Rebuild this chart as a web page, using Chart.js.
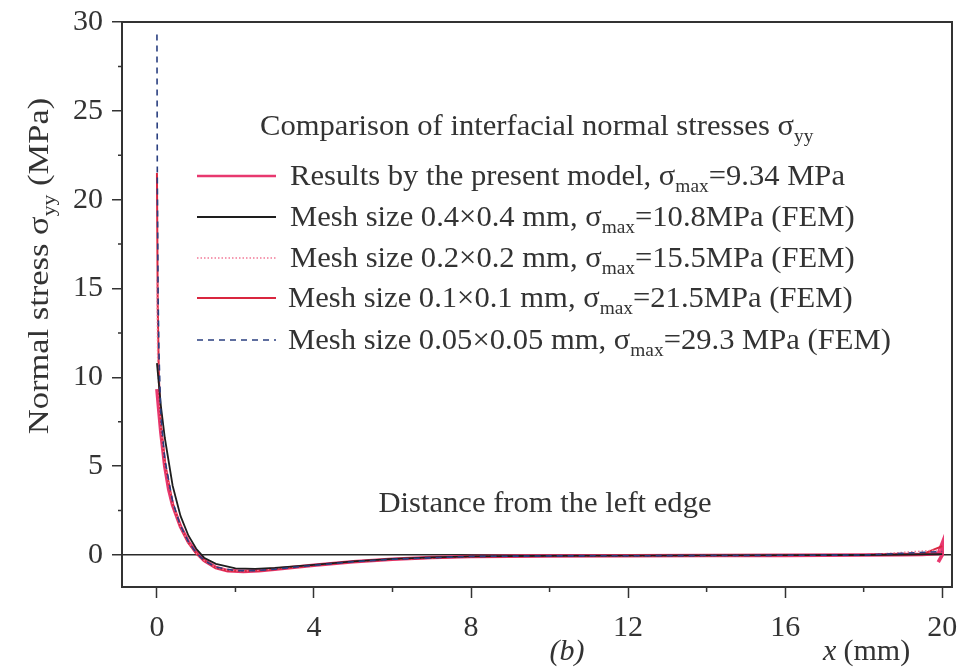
<!DOCTYPE html>
<html>
<head>
<meta charset="utf-8">
<script src="https://cdn.jsdelivr.net/npm/chart.js@4/dist/chart.umd.min.js"></script>
<style>
  html, body { margin: 0; padding: 0; background: #fff; }
  #wrap { width: 963px; height: 669px; }
</style>
</head>
<body>
<div id="wrap"><canvas id="stressChart" width="963" height="669"></canvas></div>
<script>
// values (x in mm, stress in MPa)
const xModel = [0, 0.05, 0.1, 0.2, 0.3, 0.4, 0.6, 0.8, 1.0, 1.2, 1.5, 1.8, 2.2, 2.6, 3.0, 4, 5, 6, 7, 8, 10, 12, 14, 16, 18, 19, 19.5, 19.9, 20, 20, 19.9];
const yModel = [9.34, 8.1, 6.9, 5.0, 3.7, 2.8, 1.6, 0.75, 0.15, -0.3, -0.7, -0.88, -0.92, -0.88, -0.8, -0.58, -0.38, -0.24, -0.14, -0.08, -0.05, -0.04, -0.03, -0.02, 0.0, 0.02, 0.03, 0.08, 0.65, 0.0, -0.4];

const xMesh04 = [0, 0.1, 0.2, 0.4, 0.6, 0.8, 1.0, 1.2, 1.5, 2.0, 2.5, 3.0, 4, 5, 6, 7, 8, 10, 12, 14, 16, 18, 20];
const yMesh04 = [10.8, 8.4, 6.6, 3.9, 2.2, 1.1, 0.35, -0.15, -0.5, -0.75, -0.78, -0.72, -0.55, -0.36, -0.22, -0.13, -0.08, -0.04, -0.03, -0.02, -0.01, 0.0, 0.05];

const xMesh02 = [0, 0.02, 0.1, 0.2, 0.4, 0.6, 0.8, 1.0, 1.2, 1.5, 1.8, 2.2, 2.6, 3.0, 4, 5, 6, 8, 10, 14, 18, 20];
const yMesh02 = [15.5, 10.5, 7.2, 5.2, 2.9, 1.6, 0.7, 0.1, -0.32, -0.7, -0.86, -0.9, -0.86, -0.78, -0.57, -0.37, -0.23, -0.08, -0.05, -0.03, 0.0, 0.3];

const xMesh01 = [0, 0.02, 0.05, 0.1, 0.2, 0.4, 0.6, 0.8, 1.0, 1.2, 1.5, 1.8, 2.2, 2.6, 3.0, 4, 5, 6, 8, 10, 14, 18, 19.5, 20];
const yMesh01 = [21.5, 14.0, 10.0, 7.3, 5.2, 2.9, 1.6, 0.7, 0.1, -0.32, -0.72, -0.88, -0.92, -0.88, -0.8, -0.58, -0.38, -0.24, -0.08, -0.05, -0.03, 0.0, 0.05, 0.5];

const xMesh005 = [0, 0.01, 0.03, 0.05, 0.1, 0.2, 0.4, 0.6, 0.8, 1.0, 1.2, 1.5, 2.0, 2.5, 3.0, 4, 5, 6, 8, 10, 14, 18, 20];
const yMesh005 = [29.3, 21.0, 14.5, 11.5, 7.8, 5.4, 3.0, 1.65, 0.75, 0.12, -0.3, -0.68, -0.88, -0.88, -0.8, -0.58, -0.38, -0.24, -0.08, -0.05, -0.03, 0.0, 0.2];

const seriesLabels = [
  "Results by the present model, σ_{max}=9.34 MPa",
  "Mesh size 0.4×0.4 mm, σ_{max}=10.8MPa (FEM)",
  "Mesh size 0.2×0.2 mm, σ_{max}=15.5MPa (FEM)",
  "Mesh size 0.1×0.1 mm, σ_{max}=21.5MPa (FEM)",
  "Mesh size 0.05×0.05 mm, σ_{max}=29.3 MPa (FEM)"
];
const legendTitle = "Comparison of interfacial normal stresses σ_{yy}";
const yTitle = "Normal stress σ_{yy} (MPa)";
const noteText = "Distance from the left edge";

const xMajorTicks = [0, 4, 8, 12, 16, 20];
const xMinorTicks = [2, 6, 10, 14, 18];
const yMajorTicks = [0, 5, 10, 15, 20, 25, 30];
const yMinorTicks = [2.5, 7.5, 12.5, 17.5, 22.5, 27.5];

const SERIF = "'Liberation Serif', 'Times New Roman', serif";
const INK = "#333";

function toPoints(xs, ys) {
  return xs.map((x, i) => ({ x: x, y: ys[i] }));
}

// draws text with _{sub} parts as subscripts; sx stretches horizontally
function drawRich(ctx, str, x, y, size, align, sx) {
  sx = sx || 1;
  const parts = [];
  const re = /_\{([^}]*)\}/g;
  let last = 0, m;
  while ((m = re.exec(str)) !== null) {
    if (m.index > last) parts.push({ t: str.slice(last, m.index), sub: false });
    parts.push({ t: m[1], sub: true });
    last = re.lastIndex;
  }
  if (last < str.length) parts.push({ t: str.slice(last), sub: false });
  const subSize = Math.round(size * 0.64);
  let total = 0;
  parts.forEach(p => {
    ctx.font = (p.sub ? subSize : size) + "px " + SERIF;
    p.w = ctx.measureText(p.t).width;
    total += p.w;
  });
  ctx.save();
  ctx.translate(x, y);
  ctx.scale(sx, 1);
  let cx = align === "center" ? -total / 2 : 0;
  ctx.textAlign = "left";
  ctx.textBaseline = "alphabetic";
  parts.forEach(p => {
    ctx.font = (p.sub ? subSize : size) + "px " + SERIF;
    ctx.fillText(p.t, cx, p.sub ? size * 0.22 : 0);
    cx += p.w;
  });
  ctx.restore();
  return total * sx;
}

const datasets = [
  { data: toPoints(xModel, yModel), borderColor: "#e8386f", borderWidth: 3.6, order: 5 },
  { data: toPoints(xMesh04, yMesh04), borderColor: "#1e1e1e", borderWidth: 1.8, order: 2 },
  { data: toPoints(xMesh02, yMesh02), borderColor: "#f27a98", borderWidth: 1.4, borderDash: [1.5, 2], order: 3 },
  { data: toPoints(xMesh01, yMesh01), borderColor: "#d9263f", borderWidth: 2, order: 4 },
  { data: toPoints(xMesh005, yMesh005), borderColor: "#2a3f80", borderWidth: 1.6, borderDash: [6, 5], order: 1 }
].map(d => Object.assign({ showLine: true, pointRadius: 0, tension: 0, fill: false }, d));

const decorations = {
  id: "decorations",
  afterDatasetsDraw(chart) {
    const ctx = chart.ctx;
    const a = chart.chartArea;
    const xs = chart.scales.x, ys = chart.scales.y;
    ctx.save();
    // frame
    ctx.strokeStyle = INK;
    ctx.lineWidth = 2;
    ctx.strokeRect(a.left, a.top, a.right - a.left, a.bottom - a.top);
    // minor ticks
    ctx.lineWidth = 1.5;
    ctx.beginPath();
    xMinorTicks.forEach(v => {
      const px = xs.getPixelForValue(v);
      ctx.moveTo(px, a.bottom); ctx.lineTo(px, a.bottom + 5);
    });
    yMinorTicks.forEach(v => {
      const py = ys.getPixelForValue(v);
      ctx.moveTo(a.left - 4, py); ctx.lineTo(a.left, py);
    });
    ctx.stroke();

    ctx.fillStyle = INK;
    // legend title
    drawRich(ctx, legendTitle, 260, 135, 30, "left", 1.02);
    // legend rows
    const rowY = [176, 217, 258, 298, 340];
    const textX = [290, 290, 290, 288, 288];
    chart.data.datasets.forEach((ds, i) => {
      ctx.save();
      ctx.strokeStyle = ds.borderColor;
      ctx.lineWidth = Math.min(ds.borderWidth, 2.4);
      ctx.setLineDash(ds.borderDash || []);
      ctx.beginPath();
      ctx.moveTo(197, rowY[i]);
      ctx.lineTo(276, rowY[i]);
      ctx.stroke();
      ctx.restore();
      ctx.fillStyle = INK;
      drawRich(ctx, seriesLabels[i], textX[i], rowY[i] + 9, 30, "left", 1.02);
    });

    // annotation
    drawRich(ctx, noteText, 545, 512, 30, "center", 1.02);
    // (b) and x (mm)
    ctx.font = "italic 30px " + SERIF;
    ctx.textAlign = "center";
    ctx.fillText("(b)", 567, 660);
    ctx.textAlign = "left";
    ctx.fillText("x", 823, 660);
    ctx.font = "30px " + SERIF;
    ctx.fillText(" (mm)", 836, 660);

    // y title rotated
    ctx.save();
    ctx.translate(48, 266);
    ctx.rotate(-Math.PI / 2);
    drawRich(ctx, yTitle, 0, 0, 30, "center", 1.15);
    ctx.restore();
    ctx.restore();
  }
};

new Chart(document.getElementById("stressChart").getContext("2d"), {
  type: "scatter",
  data: { datasets: datasets },
  options: {
    responsive: false,
    animation: false,
    layout: { padding: { left: 0, top: 22, right: 11, bottom: 0 } },
    plugins: { legend: { display: false }, tooltip: { enabled: false } },
    scales: {
      x: {
        type: "linear",
        min: -0.89,
        max: 20.25,
        afterBuildTicks: scale => { scale.ticks = xMajorTicks.map(v => ({ value: v })); },
        afterFit: scale => {
          scale.height = 82;
          scale.paddingLeft = 0;
          scale.paddingRight = 0;
        },
        border: { display: false },
        grid: { drawOnChartArea: false, tickLength: 11, tickColor: INK, tickWidth: 1.5 },
        ticks: { color: INK, padding: 12, font: { family: SERIF, size: 30 } }
      },
      y: {
        type: "linear",
        min: -1.8,
        max: 30,
        afterBuildTicks: scale => { scale.ticks = yMajorTicks.map(v => ({ value: v })); },
        afterFit: scale => {
          scale.width = 122;
          scale.paddingTop = 0;
          scale.paddingBottom = 0;
        },
        border: { display: false },
        grid: {
          color: c => (c.tick && c.tick.value === 0 ? "#2a2a2a" : "rgba(0,0,0,0)"),
          lineWidth: 1.5,
          tickLength: 10,
          tickColor: INK,
          tickWidth: 1.5
        },
        ticks: { color: INK, padding: 9, font: { family: SERIF, size: 30 } }
      }
    }
  },
  plugins: [decorations]
});
</script>
</body>
</html>
